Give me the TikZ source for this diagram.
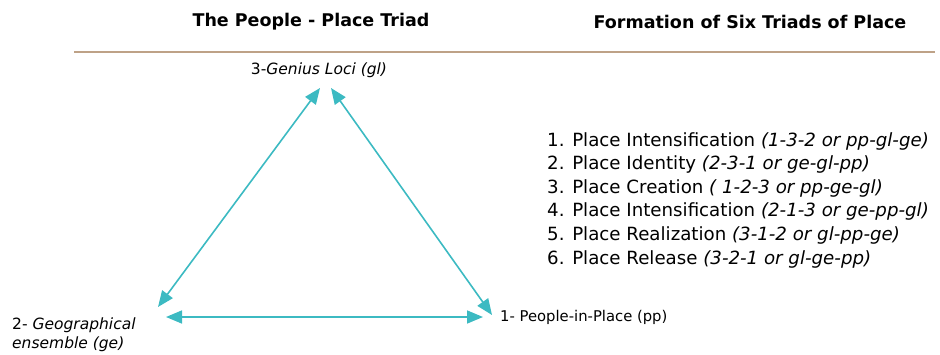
\documentclass[tikz,border=0pt]{standalone}
\usepackage{fontspec}
\setmainfont{DejaVu Sans}
\usetikzlibrary{arrows.meta}
\definecolor{teal}{RGB}{60,186,194}
\definecolor{rule}{RGB}{190,162,135}
\tikzset{
  tip/.tip={Triangle[length=16pt,width=13pt]},
  link/.style={draw=teal, line width=1.6pt, tip-tip},
  title/.style={font=\fontsize{17.5}{20}\selectfont\bfseries, inner sep=0pt},
  vlabel/.style={font=\fontsize{15.5}{19}\selectfont, inner sep=0pt},
  item/.style={font=\fontsize{18.2}{20}\selectfont, anchor=base west, inner sep=0pt}
}
\begin{document}
\begin{tikzpicture}[x=1pt,y=-1pt]
\useasboundingbox (0,0) rectangle (940,354);
% headings and rule
\node[title] (t1) at (311,22) {The People - Place Triad};
\node[title] (t2) at (750,22) {Formation of Six Triads of Place};
\coordinate (r1) at (74,52);
\coordinate (r2) at (935,52);
\draw[rule, line width=1.3pt] (r1) -- (r2);
% vertex labels
\node[vlabel] (gl) at (319,70) {3-\textit{Genius Loci (gl)}};
\node[vlabel, anchor=west, font=\fontsize{14.8}{19}\selectfont] (pp) at (500,317) {1- People-in-Place (pp)};
\node[vlabel, anchor=north west, align=left] (ge) at (12,318) {2- \textit{Geographical}\\\textit{ensemble (ge)}};
% arrow tips
\coordinate (glL) at (320,88);
\coordinate (glR) at (331,88);
\coordinate (geU) at (158,307);
\coordinate (geR) at (166,317);
\coordinate (ppU) at (492,315);
\coordinate (ppL) at (483,317);
\draw[link] (glL) -- (geU);
\draw[link] (glR) -- (ppU);
\draw[link] (geR) -- (ppL);
% the six triads
\node[item] (i1) at (547,146) {1. Place Intensification \textit{(1-3-2 or pp-gl-ge)}};
\node[item] (i2) at (547,169.6) {2. Place Identity \textit{(2-3-1 or ge-gl-pp)}};
\node[item] (i3) at (547,193.2) {3. Place Creation \textit{( 1-2-3 or pp-ge-gl)}};
\node[item] (i4) at (547,216.8) {4. Place Intensification \textit{(2-1-3 or ge-pp-gl)}};
\node[item] (i5) at (547,240.4) {5. Place Realization \textit{(3-1-2 or gl-pp-ge)}};
\node[item] (i6) at (547,264) {6. Place Release \textit{(3-2-1 or gl-ge-pp)}};
\end{tikzpicture}
\end{document}
